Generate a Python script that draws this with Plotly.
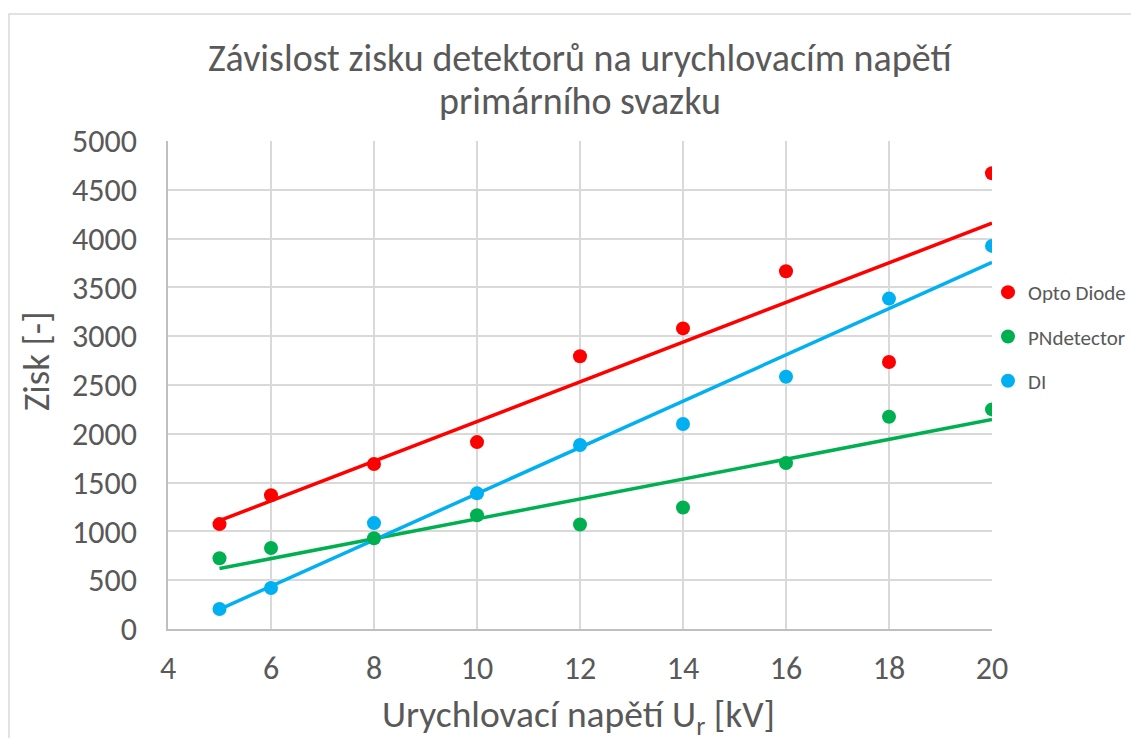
import numpy as np
import plotly.graph_objects as go

# ---- data ----
voltage_kv = [5, 6, 8, 10, 12, 14, 16, 18, 20]
opto_diode = [1075, 1370, 1690, 1915, 2795, 3080, 3665, 2735, 4670]
pn_detector = [725, 830, 930, 1165, 1070, 1245, 1700, 2175, 2250]
di = [205, 420, 1085, 1390, 1885, 2100, 2585, 3385, 3925]
series_names = ["Opto Diode", "PNdetector", "DI"]
series_colors = ["#FF0000", "#00B050", "#00B0F0"]
x_ticks = [4, 6, 8, 10, 12, 14, 16, 18, 20]
y_ticks = [0, 500, 1000, 1500, 2000, 2500, 3000, 3500, 4000, 4500, 5000]

title_lines = ["Závislost zisku detektorů na urychlovacím napětí", "primárního svazku"]
x_title = "Urychlovací napětí U<sub>r</sub> [kV]"
y_title = "Zisk [-]"

FONT = "Carlito, Calibri, 'Liberation Sans Narrow', 'Open Sans', sans-serif"
TXT = "#595959"
GRID = "#D9D9D9"

W, H = 1131, 738
L, R, T, B = 168, 992, 141, 629  # plot area in px

fig = go.Figure()
all_series = [opto_diode, pn_detector, di]
x_arr = np.array(voltage_kv, dtype=float)
for name, col, ys in zip(series_names, series_colors, all_series):
    slope, icpt = np.polyfit(x_arr, np.array(ys, dtype=float), 1)
    xe = [min(voltage_kv), max(voltage_kv)]
    fig.add_trace(go.Scatter(
        x=xe, y=[slope * v + icpt for v in xe], mode="lines",
        line=dict(color=col, width=3.5), showlegend=False, hoverinfo="skip"))
for name, col, ys in zip(series_names, series_colors, all_series):
    fig.add_trace(go.Scatter(
        x=voltage_kv, y=ys, mode="markers", name=name, legendgroup=name,
        marker=dict(color=col, size=14, line=dict(width=0))))

def px_x(p):
    return (p - L) / (R - L)

def px_y(p):
    return (B - p) / (B - T)

fig.update_layout(
    width=W, height=H,
    margin=dict(l=L, r=W - R, t=T, b=H - B, pad=0, autoexpand=False),
    paper_bgcolor="white", plot_bgcolor="white",
    font=dict(family=FONT, color=TXT),
    showlegend=True,
    legend=dict(x=px_x(988), y=px_y(272), xanchor="left", yanchor="top",
                font=dict(size=21, color=TXT, family=FONT),
                tracegroupgap=14, itemwidth=30, bgcolor="rgba(0,0,0,0)"),
    xaxis=dict(range=[4, 20], tickvals=x_ticks, showgrid=True, gridcolor=GRID,
               gridwidth=1.5, zeroline=False, showline=True, linecolor="#BFBFBF",
               linewidth=1.5, ticks="", tickfont=dict(size=32, color=TXT, family=FONT),
               ticklabelstandoff=10, fixedrange=True),
    yaxis=dict(range=[0, 5000], tickvals=y_ticks, showgrid=True, gridcolor=GRID,
               gridwidth=1.5, zeroline=False, showline=True, linecolor="#BFBFBF",
               linewidth=1.5, ticks="", tickfont=dict(size=32, color=TXT, family=FONT),
               ticklabelstandoff=23, fixedrange=True),
)

# chart frame
fig.add_shape(type="rect", xref="paper", yref="paper",
              x0=px_x(9), x1=px_x(W + 20), y0=px_y(H + 20), y1=px_y(14),
              line=dict(color=GRID, width=1.5), fillcolor="rgba(0,0,0,0)", layer="below")

# title
fig.add_annotation(text=title_lines[0], xref="paper", yref="paper",
                   x=px_x(580), y=px_y(58), xanchor="center", yanchor="middle",
                   showarrow=False, font=dict(size=38, color=TXT, family=FONT))
fig.add_annotation(text=title_lines[1], xref="paper", yref="paper",
                   x=px_x(580), y=px_y(101), xanchor="center", yanchor="middle",
                   showarrow=False, font=dict(size=38, color=TXT, family=FONT))
# axis titles
fig.add_annotation(text=x_title, xref="paper", yref="paper",
                   x=px_x(578), y=px_y(716), xanchor="center", yanchor="middle",
                   showarrow=False, font=dict(size=37.5, color=TXT, family=FONT))
fig.add_annotation(text=y_title, xref="paper", yref="paper",
                   x=px_x(36), y=px_y(361), xanchor="center", yanchor="middle",
                   textangle=-90, showarrow=False, font=dict(size=37, color=TXT, family=FONT))

fig.write_html("out.html", config={"displayModeBar": False},
               post_script="document.body.style.margin='0';document.body.style.overflow='hidden';")
